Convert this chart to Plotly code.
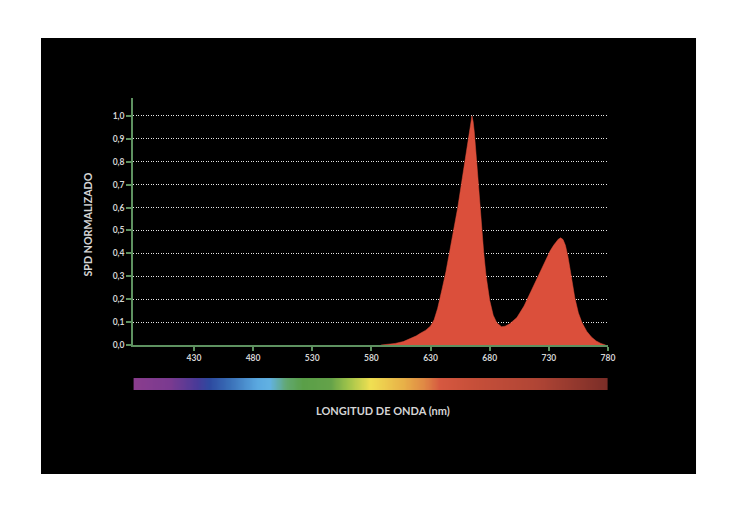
import plotly.graph_objects as go

# ---- data ----
wavelength = [588, 595, 600, 607, 614, 618, 621, 626, 630, 633, 636, 638, 640, 643, 646,
              650, 653, 656, 659, 661, 663, 664, 665, 666, 667, 669, 671, 673, 675, 677,
              680, 683, 686, 690, 693, 697, 700, 703, 709, 714, 720, 726, 731, 734, 736,
              738, 740, 742, 744, 746, 748, 750, 752, 755, 758, 762, 766, 770, 774, 778]
spd = [0.0, 0.003, 0.007, 0.015, 0.03, 0.04, 0.05, 0.065, 0.083, 0.11, 0.16, 0.20, 0.25,
       0.32, 0.40, 0.51, 0.60, 0.70, 0.80, 0.88, 0.95, 0.985, 1.0, 0.975, 0.93, 0.80, 0.66,
       0.52, 0.40, 0.30, 0.195, 0.13, 0.097, 0.08, 0.082, 0.093, 0.105, 0.12, 0.17, 0.225,
       0.29, 0.355, 0.41, 0.435, 0.45, 0.462, 0.468, 0.46, 0.435, 0.39, 0.33, 0.265, 0.205,
       0.14, 0.098, 0.06, 0.035, 0.018, 0.007, 0.0]

x_ticks = [430, 480, 530, 580, 630, 680, 730, 780]
y_ticks = [0.0, 0.1, 0.2, 0.3, 0.4, 0.5, 0.6, 0.7, 0.8, 0.9, 1.0]
y_ticktext = ["0,0", "0,1", "0,2", "0,3", "0,4", "0,5", "0,6", "0,7", "0,8", "0,9", "1,0"]

bar_wl = list(range(380, 782, 2))
stop_wl = [380, 410, 432, 443, 460, 483, 494, 508, 522, 545, 559, 579, 607, 624, 638, 663, 720, 780]
stop_colors = ["#8a3d8e", "#7a3a90", "#4a3a98", "#2d4aa0", "#3a70b8", "#5aa8e0", "#62b2e2",
               "#62a870", "#5a9f48", "#64a249", "#9cc24a", "#f0e052", "#e8b048", "#e08a45",
               "#d65840", "#c8503a", "#b04535", "#7a2d27"]

colorscale = [[(w - 380) / 400, c] for w, c in zip(stop_wl, stop_colors)]

GREEN = "#5e9160"
TXT = "#d4d4d4"
RED = "#db4f3b"

fig = go.Figure()

fig.add_trace(go.Heatmap(
    x=bar_wl, y=[0], z=[bar_wl], xaxis="x", yaxis="y2",
    colorscale=colorscale, zmin=380, zmax=780, showscale=False,
    zsmooth="best", hoverinfo="skip"))

fig.add_trace(go.Scatter(
    x=wavelength, y=spd, mode="lines", fill="tozeroy",
    line=dict(color=RED, width=0.5, shape="linear"),
    fillcolor=RED, hoverinfo="skip"))

fig.add_shape(type="rect", xref="paper", yref="paper",
              x0=-0.1937, x1=1.1853, y0=-0.2877, y1=1.2055,
              fillcolor="#000000", line=dict(width=0), layer="below")

tickfont = dict(size=8.5, color=TXT, family="Lato", weight="bold")

fig.update_layout(
    width=750, height=519,
    margin=dict(l=125, r=150, t=90, b=137),
    paper_bgcolor="white", plot_bgcolor="rgba(0,0,0,0)",
    showlegend=False,
    font=dict(family="Lato", color=TXT),
    xaxis=dict(range=[378.5, 780], anchor="y", showgrid=False, zeroline=False,
               showline=True, linecolor=GREEN, linewidth=1.5,
               ticks="outside", ticklen=4, tickwidth=1.5, tickcolor=GREEN,
               tickvals=x_ticks, ticktext=[str(v) for v in x_ticks],
               tickfont=tickfont),
    yaxis=dict(domain=[0.154, 1], range=[0, 1.078], anchor="x",
               showgrid=True, gridcolor="#e6e6e6", gridwidth=1.2, griddash="1px,1.5px",
               zeroline=False, showline=True, linecolor=GREEN, linewidth=1.5,
               ticks="outside", ticklen=5, tickwidth=1.5, tickcolor=GREEN,
               tickvals=y_ticks, ticktext=y_ticktext,
               tickfont=tickfont),
    yaxis2=dict(domain=[0, 0.041], range=[-0.5, 0.5], anchor="x", visible=False),
    annotations=[
        dict(text="SPD NORMALIZADO", xref="paper", yref="paper", x=-0.0968, y=0.5668,
             textangle=-90, showarrow=False, xanchor="center", yanchor="middle",
             font=dict(size=10.7, color=TXT, family="Lato", weight="bold")),
        dict(text="LONGITUD DE ONDA (nm)", xref="paper", yref="paper", x=0.526, y=-0.0685,
             showarrow=False, xanchor="center", yanchor="middle",
             font=dict(size=11, color=TXT, family="Lato", weight="bold")),
    ],
)

fig.write_html("out.html")
